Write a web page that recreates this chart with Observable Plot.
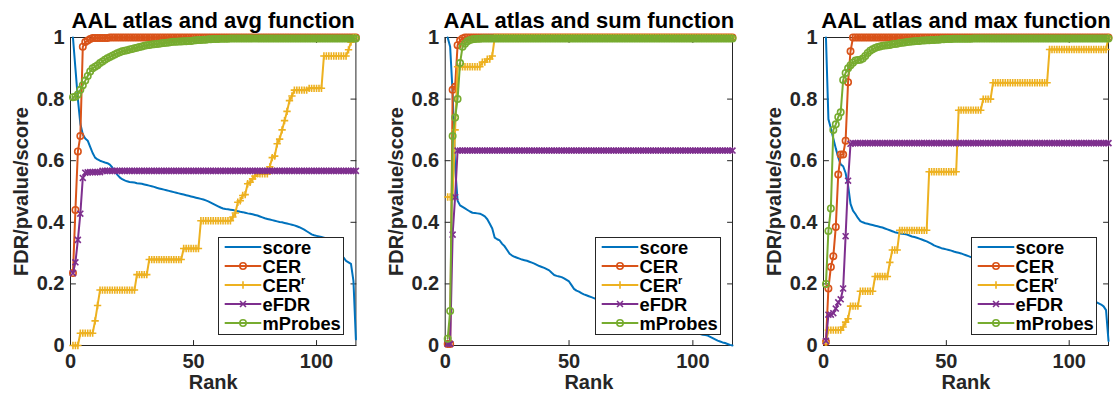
<!DOCTYPE html>
<html>
<head>
<meta charset="utf-8">
<script src="https://cdn.jsdelivr.net/npm/d3@7"></script>
<script src="https://cdn.jsdelivr.net/npm/@observablehq/plot@0.6"></script>
<style>
  html, body { margin: 0; padding: 0; background: #ffffff; }
  #chart { position: relative; width: 1117px; height: 399px; overflow: hidden; background: #ffffff;
           font-family: "Liberation Sans", Arial, Helvetica, sans-serif; }
  .panel { position: absolute; top: 0; }
  .legend { position: absolute; background: #ffffff; border: 1px solid #262626; box-sizing: border-box; }
  .legend svg { display: block; overflow: visible; }
</style>
</head>
<body>
<div id="chart"></div>
<script>
// ---------------- data ----------------
const panelTitles = ["AAL atlas and avg function", "AAL atlas and sum function", "AAL atlas and max function"];
const seriesNames = ["score", "CER", "CERr", "eFDR", "mProbes"];
const seriesColors = ["#0072BD", "#D95319", "#EDB120", "#7E2F8E", "#77AC30"];
const seriesSymbols = [null, "circle", "plus", "times", "circle"];
const yTicks = [0, 0.2, 0.4, 0.6, 0.8, 1];
const xTicks = [0, 50, 100];
const yLabel = "FDR/pvalue/score";
const xLabel = "Rank";
const ranks = d3.range(1, 117); // region rank 1..116

// ---- avg function ----
const scoreAvg = [1.0,0.90,0.80,0.72,0.685,0.672,0.665,0.645,0.625,0.610,
 0.604,0.600,0.597,0.594,0.592,0.587,0.578,0.566,0.555,0.546,
 0.540,0.536,0.533,0.531,0.530,0.529,0.527,0.526,0.525,0.523,
 0.521,0.519,0.517,0.515,0.512,0.510,0.508,0.506,0.504,0.502,
 0.500,0.498,0.496,0.494,0.492,0.490,0.488,0.486,0.484,0.482,
 0.480,0.478,0.476,0.474,0.471,0.468,0.464,0.460,0.456,0.452,
 0.448,0.445,0.443,0.442,0.441,0.440,0.438,0.436,0.434,0.433,
 0.431,0.429,0.428,0.426,0.424,0.422,0.419,0.416,0.413,0.411,
 0.409,0.407,0.405,0.403,0.401,0.400,0.398,0.396,0.394,0.392,
 0.390,0.387,0.384,0.380,0.376,0.371,0.366,0.361,0.358,0.356,
 0.354,0.352,0.350,0.348,0.345,0.340,0.333,0.322,0.310,0.298,
 0.285,0.275,0.270,0.265,0.210,0.020];
const cerAvg = [0.235,0.44,0.63,0.68,0.97,0.985,0.99,0.995,0.998,0.998,
 0.998,0.998,0.998,0.998,0.998,1,1,1,1,1,
 1,1,1,1,1,1,1,1,1,1, 1,1,1,1,1,1,1,1,1,1,
 1,1,1,1,1,1,1,1,1,1, 1,1,1,1,1,1,1,1,1,1,
 1,1,1,1,1,1,1,1,1,1, 1,1,1,1,1,1,1,1,1,1,
 1,1,1,1,1,1,1,1,1,1, 1,1,1,1,1,1,1,1,1,1,
 1,1,1,1,1,1,1,1,1,1, 1,1,1,1,1,1];
const cerrAvg = [0,0,0,0.04,0.04,0.04,0.04,0.04,0.04,0.08,
 0.13,0.18,0.18,0.18,0.18,0.18,0.18,0.18,0.18,0.18,
 0.18,0.18,0.18,0.18,0.18,0.18,0.23,0.23,0.23,0.23,
 0.23,0.279,0.279,0.279,0.279,0.279,0.279,0.279,0.279,0.279,
 0.279,0.279,0.279,0.279,0.279,0.315,0.315,0.315,0.315,0.315,
 0.315,0.315,0.405,0.405,0.405,0.405,0.405,0.405,0.405,0.405,
 0.405,0.405,0.405,0.405,0.405,0.417,0.43,0.465,0.47,0.487,
 0.49,0.525,0.53,0.541,0.55,0.557,0.557,0.557,0.557,0.557,
 0.58,0.61,0.615,0.655,0.67,0.70,0.73,0.76,0.795,0.81,
 0.829,0.829,0.829,0.829,0.829,0.829,0.835,0.835,0.835,0.835,
 0.835,0.835,0.94,0.94,0.94,0.94,0.94,0.94,0.94,0.94,
 0.94,0.94,0.96,0.985,1,1];
const efdrAvg = [0.235,0.27,0.343,0.428,0.544,0.561,0.562,0.563,0.563,0.563,
 0.563,0.563,0.567,0.567,0.567,0.567,0.567,0.567,0.567,0.567,
 0.567,0.567,0.567,0.567,0.567,0.567,0.567,0.567,0.567,0.567,
 0.567,0.567,0.567,0.567,0.567,0.567,0.567,0.567,0.567,0.567,
 0.567,0.567,0.567,0.567,0.567,0.567,0.567,0.567,0.567,0.567,
 0.567,0.567,0.567,0.567,0.567,0.567,0.567,0.567,0.567,0.567,
 0.567,0.567,0.567,0.567,0.567,0.567,0.567,0.567,0.567,0.567,
 0.567,0.567,0.567,0.567,0.567,0.567,0.567,0.567,0.567,0.567,
 0.567,0.567,0.567,0.567,0.567,0.567,0.567,0.567,0.567,0.567,
 0.567,0.567,0.567,0.567,0.567,0.567,0.567,0.567,0.567,0.567,
 0.567,0.567,0.567,0.567,0.567,0.567,0.567,0.567,0.567,0.567,
 0.567,0.567,0.567,0.567,0.567,0.567];
const mprobesAvg = [0.806,0.808,0.815,0.83,0.845,0.86,0.875,0.89,0.9,0.905,
 0.91,0.917,0.922,0.928,0.933,0.937,0.941,0.945,0.949,0.952,
 0.955,0.957,0.959,0.961,0.963,0.965,0.967,0.969,0.971,0.973,
 0.975,0.976,0.977,0.978,0.979,0.980,0.981,0.982,0.983,0.984,
 0.985,0.986,0.986,0.987,0.987,0.988,0.988,0.989,0.989,0.990,
 0.991,0.992,0.992,0.993,0.993,0.994,0.994,0.995,0.995,0.995,
 0.996,0.996,0.996,0.996,0.997,0.997,0.997,0.997,0.997,0.997,
 0.997,0.997,0.997,0.997,0.997,0.997,0.997,0.997,0.997,0.997,
 0.997,0.997,0.997,0.997,0.997,0.997,0.997,0.997,0.997,0.997,
 0.997,0.997,0.997,0.997,0.997,0.997,0.997,0.997,0.997,0.997,
 0.997,0.997,0.997,0.997,0.997,0.997,0.997,0.997,0.997,0.997,
 0.997,0.997,0.997,0.997,0.997,0.997];

// ---- sum function ----
const scoreSum = [1.0,0.97,0.82,0.58,0.47,0.455,0.45,0.445,0.44,0.435,
 0.431,0.43,0.429,0.428,0.424,0.419,0.41,0.395,0.38,0.35,
 0.345,0.341,0.33,0.322,0.31,0.298,0.292,0.288,0.285,0.282,
 0.279,0.277,0.275,0.272,0.269,0.266,0.262,0.258,0.255,0.252,
 0.248,0.244,0.236,0.229,0.226,0.224,0.222,0.218,0.213,0.208,
 0.196,0.184,0.178,0.175,0.17,0.166,0.163,0.16,0.157,0.154,
 0.151,0.148,0.145,0.142,0.139,0.136,0.133,0.13,0.127,0.124,
 0.121,0.118,0.115,0.112,0.109,0.106,0.103,0.1,0.097,0.094,
 0.091,0.088,0.085,0.082,0.079,0.076,0.073,0.07,0.067,0.064,
 0.061,0.058,0.055,0.052,0.049,0.047,0.045,0.043,0.041,0.04,
 0.039,0.038,0.037,0.035,0.034,0.032,0.028,0.024,0.02,0.016,
 0.013,0.01,0.008,0.005,0.002,0];
const cerSum = [0.005,0.005,0.83,0.84,0.975,0.99,0.997,1,1,1,
 1,1,1,1,1,1,1,1,1,1, 1,1,1,1,1,1,1,1,1,1,
 1,1,1,1,1,1,1,1,1,1, 1,1,1,1,1,1,1,1,1,1,
 1,1,1,1,1,1,1,1,1,1, 1,1,1,1,1,1,1,1,1,1,
 1,1,1,1,1,1,1,1,1,1, 1,1,1,1,1,1,1,1,1,1,
 1,1,1,1,1,1,1,1,1,1, 1,1,1,1,1,1,1,1,1,1,
 1,1,1,1,1,1];
const cerrSum = [0.482,0.482,0.482,0.70,0.905,0.905,0.905,0.905,0.905,0.905,
 0.905,0.905,0.905,0.905,0.92,0.92,0.93,0.93,0.94,1,
 1,1,1,1,1,1,1,1,1,1, 1,1,1,1,1,1,1,1,1,1,
 1,1,1,1,1,1,1,1,1,1, 1,1,1,1,1,1,1,1,1,1,
 1,1,1,1,1,1,1,1,1,1, 1,1,1,1,1,1,1,1,1,1,
 1,1,1,1,1,1,1,1,1,1, 1,1,1,1,1,1,1,1,1,1,
 1,1,1,1,1,1,1,1,1,1, 1,1,1,1,1,1];
const efdrSum = [0.005,0.005,0.36,0.482,0.633,0.633,0.633,0.633,0.633,0.633,
 0.633,0.633,0.633,0.633,0.633,0.633,0.633,0.633,0.633,0.633,
 0.633,0.633,0.633,0.633,0.633,0.633,0.633,0.633,0.633,0.633,
 0.633,0.633,0.633,0.633,0.633,0.633,0.633,0.633,0.633,0.633,
 0.633,0.633,0.633,0.633,0.633,0.633,0.633,0.633,0.633,0.633,
 0.633,0.633,0.633,0.633,0.633,0.633,0.633,0.633,0.633,0.633,
 0.633,0.633,0.633,0.633,0.633,0.633,0.633,0.633,0.633,0.633,
 0.633,0.633,0.633,0.633,0.633,0.633,0.633,0.633,0.633,0.633,
 0.633,0.633,0.633,0.633,0.633,0.633,0.633,0.633,0.633,0.633,
 0.633,0.633,0.633,0.633,0.633,0.633,0.633,0.633,0.633,0.633,
 0.633,0.633,0.633,0.633,0.633,0.633,0.633,0.633,0.633,0.633,
 0.633,0.633,0.633,0.633,0.633,0.633];
const mprobesSum = [0.022,0.112,0.68,0.74,0.80,0.917,0.97,0.98,0.988,0.992,
 0.994,0.995,0.996,0.996,0.997,0.997,0.997,0.997,0.997,0.997,
 0.997,0.997,0.997,0.997,0.997,0.997,0.997,0.997,0.997,0.997,
 0.997,0.997,0.997,0.997,0.997,0.997,0.997,0.997,0.997,0.997,
 0.997,0.997,0.997,0.997,0.997,0.997,0.997,0.997,0.997,0.997,
 0.997,0.997,0.997,0.997,0.997,0.997,0.997,0.997,0.997,0.997,
 0.997,0.997,0.997,0.997,0.997,0.997,0.997,0.997,0.997,0.997,
 0.997,0.997,0.997,0.997,0.997,0.997,0.997,0.997,0.997,0.997,
 0.997,0.997,0.997,0.997,0.997,0.997,0.997,0.997,0.997,0.997,
 0.997,0.997,0.997,0.997,0.997,0.997,0.997,0.997,0.997,0.997,
 0.997,0.997,0.997,0.997,0.997,0.997,0.997,0.997,0.997,0.997,
 0.997,0.997,0.997,0.997,0.997,0.997];

// ---- max function ----
const scoreMax = [1.0,0.735,0.705,0.672,0.64,0.611,0.588,0.582,0.56,0.52,
 0.46,0.438,0.427,0.414,0.404,0.4,0.397,0.395,0.393,0.391,
 0.389,0.387,0.385,0.383,0.38,0.377,0.374,0.371,0.368,0.366,
 0.364,0.363,0.362,0.36,0.357,0.354,0.352,0.35,0.347,0.344,
 0.341,0.338,0.334,0.33,0.325,0.322,0.319,0.316,0.314,0.312,
 0.31,0.308,0.305,0.303,0.301,0.299,0.296,0.293,0.29,0.287,
 0.284,0.281,0.278,0.275,0.272,0.27,0.267,0.264,0.261,0.258,
 0.255,0.252,0.25,0.247,0.244,0.241,0.238,0.235,0.232,0.23,
 0.227,0.224,0.221,0.218,0.215,0.212,0.21,0.207,0.204,0.201,
 0.198,0.195,0.192,0.19,0.187,0.184,0.181,0.178,0.175,0.172,
 0.17,0.167,0.164,0.161,0.158,0.155,0.152,0.15,0.147,0.144,
 0.141,0.137,0.133,0.127,0.115,0.015];
const cerMax = [0.012,0.185,0.255,0.29,0.385,0.555,0.62,0.62,0.665,0.855,
 0.955,1,1,1,1,1,1,1,1,1, 1,1,1,1,1,1,1,1,1,1,
 1,1,1,1,1,1,1,1,1,1, 1,1,1,1,1,1,1,1,1,1,
 1,1,1,1,1,1,1,1,1,1, 1,1,1,1,1,1,1,1,1,1,
 1,1,1,1,1,1,1,1,1,1, 1,1,1,1,1,1,1,1,1,1,
 1,1,1,1,1,1,1,1,1,1, 1,1,1,1,1,1,1,1,1,1,
 1,1,1,1,1,1];
const cerrMax = [0.01,0.05,0.05,0.05,0.05,0.05,0.05,0.06,0.076,0.087,
 0.128,0.128,0.128,0.128,0.176,0.176,0.176,0.176,0.176,0.176,
 0.224,0.224,0.224,0.224,0.224,0.224,0.27,0.31,0.31,0.31,
 0.374,0.374,0.374,0.374,0.374,0.374,0.374,0.374,0.374,0.374,
 0.374,0.374,0.564,0.564,0.564,0.564,0.564,0.564,0.564,0.564,
 0.564,0.564,0.564,0.564,0.764,0.764,0.764,0.764,0.764,0.764,
 0.764,0.764,0.764,0.764,0.80,0.80,0.80,0.80,0.853,0.853,
 0.853,0.853,0.853,0.853,0.853,0.853,0.853,0.853,0.853,0.853,
 0.853,0.853,0.853,0.853,0.853,0.853,0.853,0.853,0.853,0.853,
 0.853,0.961,0.961,0.961,0.961,0.961,0.961,0.961,0.961,0.961,
 0.961,0.961,0.961,0.961,0.961,0.961,0.961,0.961,0.961,0.961,
 0.961,0.961,0.961,0.961,0.961,1];
const efdrMax = [0.015,0.1,0.1,0.105,0.12,0.14,0.15,0.185,0.355,0.535,
 0.655,0.657,0.657,0.657,0.657,0.657,0.657,0.657,0.657,0.657,
 0.657,0.657,0.657,0.657,0.657,0.657,0.657,0.657,0.657,0.657,
 0.657,0.657,0.657,0.657,0.657,0.657,0.657,0.657,0.657,0.657,
 0.657,0.657,0.657,0.657,0.657,0.657,0.657,0.657,0.657,0.657,
 0.657,0.657,0.657,0.657,0.657,0.657,0.657,0.657,0.657,0.657,
 0.657,0.657,0.657,0.657,0.657,0.657,0.657,0.657,0.657,0.657,
 0.657,0.657,0.657,0.657,0.657,0.657,0.657,0.657,0.657,0.657,
 0.657,0.657,0.657,0.657,0.657,0.657,0.657,0.657,0.657,0.657,
 0.657,0.657,0.657,0.657,0.657,0.657,0.657,0.657,0.657,0.657,
 0.657,0.657,0.657,0.657,0.657,0.657,0.657,0.657,0.657,0.657,
 0.657,0.657,0.657,0.657,0.657,0.657];
const mprobesMax = [0.2,0.372,0.445,0.70,0.718,0.742,0.757,0.862,0.885,0.9,
 0.91,0.918,0.925,0.927,0.928,0.932,0.94,0.95,0.957,0.962,
 0.966,0.969,0.971,0.973,0.974,0.975,0.976,0.978,0.979,0.98,
 0.982,0.983,0.984,0.985,0.986,0.987,0.988,0.989,0.989,0.99,
 0.99,0.991,0.991,0.992,0.992,0.993,0.993,0.994,0.994,0.995,
 0.995,0.995,0.996,0.996,0.996,0.996,0.996,0.996,0.996,0.996,
 0.997,0.997,0.997,0.997,0.997,0.997,0.997,0.997,0.997,0.997,
 0.997,0.997,0.997,0.997,0.997,0.997,0.997,0.997,0.997,0.997,
 0.997,0.997,0.997,0.997,0.997,0.997,0.997,0.997,0.997,0.997,
 0.997,0.997,0.997,0.997,0.997,0.997,0.997,0.997,0.997,0.997,
 0.997,0.997,0.997,0.997,0.997,0.997,0.997,0.997,0.997,0.997,
 0.997,0.997,0.997,0.997,0.997,0.997];

const panelSeries = [
  [scoreAvg, cerAvg, cerrAvg, efdrAvg, mprobesAvg],
  [scoreSum, cerSum, cerrSum, efdrSum, mprobesSum],
  [scoreMax, cerMax, cerrMax, efdrMax, mprobesMax]
];

// ---------------- layout (not data) ----------------
const FONT = '"Liberation Sans", Arial, Helvetica, sans-serif';
const AXIS = "#262626";
const layouts = [
  {left: 0,   width: 372, marginLeft: 70,   marginRight: 16.6},
  {left: 372, width: 372, marginLeft: 72.7, marginRight: 12},
  {left: 744, width: 373, marginLeft: 79,   marginRight: 9}
];
const H = 399, MT = 37, MB = 54;

const tickShape = {draw(context, l) { context.moveTo(0, 0); context.lineTo(0, -l); }};
const markerR = {circle: 3.2, plus: 2.5, times: 2.8};
const LINE_W = 2, MARK_W = 1.6;

const chart = document.getElementById("chart");

panelTitles.forEach((title, p) => {
  const L = layouts[p];
  const marks = [
    Plot.frame({stroke: AXIS, strokeWidth: 1}),
    Plot.vector(yTicks, {y: d => d, frameAnchor: "left", rotate: 90, length: 5, anchor: "start", shape: tickShape, stroke: AXIS, strokeWidth: 1}),
    Plot.vector(yTicks, {y: d => d, frameAnchor: "right", rotate: -90, length: 5, anchor: "start", shape: tickShape, stroke: AXIS, strokeWidth: 1}),
    Plot.vector(xTicks, {x: d => d, frameAnchor: "bottom", rotate: 0, length: 5, anchor: "start", shape: tickShape, stroke: AXIS, strokeWidth: 1}),
    Plot.vector(xTicks, {x: d => d, frameAnchor: "top", rotate: 180, length: 5, anchor: "start", shape: tickShape, stroke: AXIS, strokeWidth: 1}),
    Plot.axisY({ticks: yTicks, tickSize: 0, tickPadding: 6, tickFormat: d => String(d), label: null,
                fontSize: 20, fontWeight: "bold", fill: AXIS}),
    Plot.axisX({ticks: xTicks, tickSize: 0, tickPadding: 8, tickFormat: d => String(d), label: null,
                fontSize: 20, fontWeight: "bold", fill: AXIS})
  ];
  panelSeries[p].forEach((values, s) => {
    const rows = ranks.map((r, i) => ({rank: r, value: values[i]}));
    marks.push(Plot.line(rows, {x: "rank", y: "value", stroke: seriesColors[s], strokeWidth: LINE_W}));
    const sym = seriesSymbols[s];
    if (sym) {
      marks.push(Plot.dot(rows, {x: "rank", y: "value", symbol: sym, r: markerR[sym],
        stroke: seriesColors[s], fill: "none", strokeWidth: MARK_W}));
    }
  });
  marks.push(
    Plot.text([title], {text: d => d, frameAnchor: "top", lineAnchor: "middle", textAnchor: "middle",
      dy: -16.5, fontSize: 22, fontWeight: "bold", fill: "#000000"}),
    Plot.text([yLabel], {text: d => d, frameAnchor: "left", lineAnchor: "middle", textAnchor: "middle",
      dx: -49, rotate: -90, fontSize: 20, fontWeight: "bold", fill: AXIS}),
    Plot.text([xLabel], {text: d => d, frameAnchor: "bottom", lineAnchor: "middle", textAnchor: "middle",
      dy: 37, fontSize: 20, fontWeight: "bold", fill: AXIS})
  );

  const svg = Plot.plot({
    width: L.width, height: H,
    marginTop: MT, marginBottom: MB, marginLeft: L.marginLeft, marginRight: L.marginRight,
    x: {domain: [0, 116]},
    y: {domain: [0, 1]},
    style: {fontFamily: FONT, background: "transparent", overflow: "visible"},
    marks
  });
  const holder = document.createElement("div");
  holder.className = "panel";
  holder.style.left = L.left + "px";
  holder.style.width = L.width + "px";
  holder.appendChild(svg);
  chart.appendChild(holder);

  // legend (bottom-right inside the axes)
  const LW = 126, LH = 98;
  const frameRight = L.left + L.width - L.marginRight;
  const frameBottom = H - MB;
  const lg = document.createElement("div");
  lg.className = "legend";
  lg.style.left = (frameRight - 11 - LW) + "px";
  lg.style.top = (frameBottom - 10 - LH) + "px";
  lg.style.width = LW + "px";
  lg.style.height = LH + "px";
  const ls = d3.create("svg").attr("width", LW - 2).attr("height", LH - 2)
    .style("font-family", FONT);
  const rowY = [9, 28, 47, 66, 85];
  seriesNames.forEach((name, s) => {
    const g = ls.append("g").attr("transform", `translate(0,${rowY[s]})`);
    const c = seriesColors[s];
    g.append("line").attr("x1", 5.7).attr("x2", 42.3).attr("y1", 0).attr("y2", 0)
      .attr("stroke", c).attr("stroke-width", LINE_W);
    const sym = seriesSymbols[s];
    if (sym) {
      const symType = sym === "circle" ? d3.symbolCircle : sym === "plus" ? d3.symbolPlus : d3.symbolTimes;
      const rr = markerR[sym];
      g.append("path").attr("transform", "translate(24,0)")
        .attr("d", d3.symbol(symType, Math.PI * rr * rr)())
        .attr("fill", "none").attr("stroke", c).attr("stroke-width", MARK_W);
    }
    const t = g.append("text").attr("x", 43.5).attr("y", 6.5)
      .attr("font-size", 18.3).attr("font-weight", "bold").attr("fill", "#000000");
    if (name === "CERr") {
      t.append("tspan").text("CER");
      t.append("tspan").text("r").attr("font-size", 11).attr("dy", -8);
    } else {
      t.text(name);
    }
  });
  lg.appendChild(ls.node());
  chart.appendChild(lg);
});
</script>
</body>
</html>
